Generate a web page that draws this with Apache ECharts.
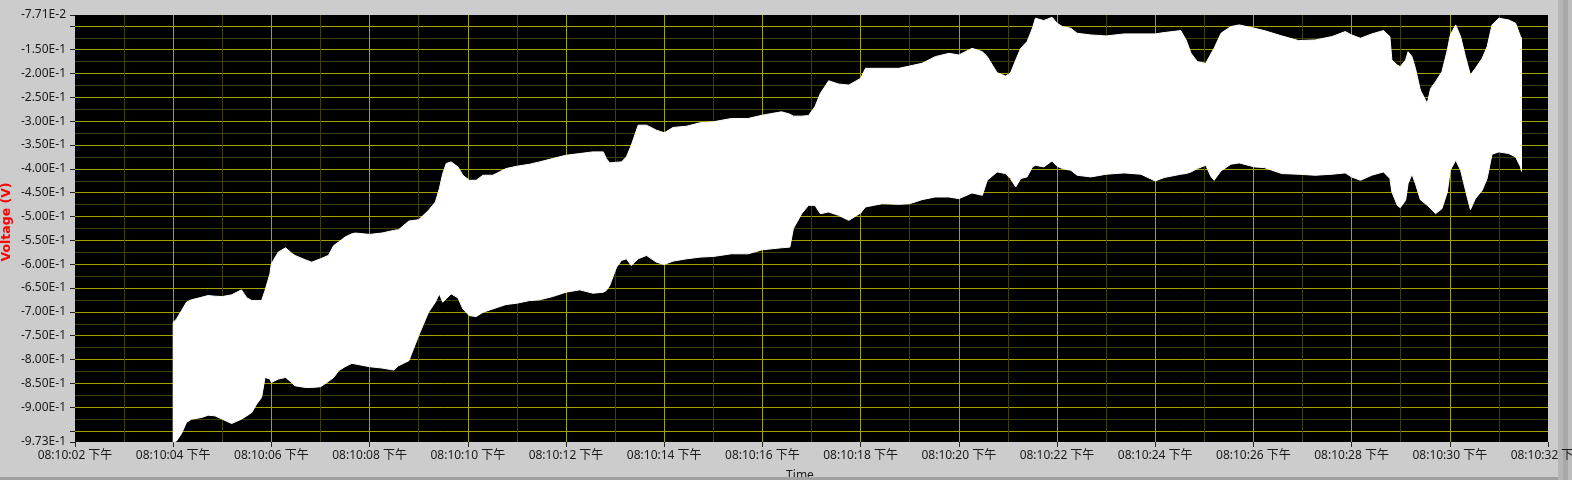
<!DOCTYPE html>
<html><head><meta charset="utf-8">
<script src="https://cdn.jsdelivr.net/npm/echarts@6/dist/echarts.min.js"></script>
<style>
html,body{margin:0;padding:0;background:#cccccc;}
#c{width:1572px;height:480px;background:linear-gradient(to right,#cccccc 0,#cccccc 1558px,#b6b6b6 1558px,#b6b6b6 1563px,#a8a8a8 1563px,#a8a8a8 1568px,#bdbdbd 1568px,#bdbdbd 1572px);}
</style>
</head><body><div id="c"></div>
<script>
// time in seconds after 08:10:00 PM
const times = [4.00,4.07,4.17,4.27,4.37,4.58,4.71,4.85,5.00,5.19,5.39,5.50,5.60,5.70,5.80,5.87,5.97,6.00,6.14,6.29,6.41,6.48,6.69,6.82,7.00,7.16,7.27,7.37,7.50,7.64,7.71,8.00,8.25,8.49,8.59,8.80,9.00,9.20,9.34,9.42,9.49,9.56,9.66,9.80,9.90,10.03,10.17,10.31,10.51,10.78,11.00,11.26,11.46,11.73,12.00,12.28,12.55,12.76,12.82,12.89,13.03,13.13,13.23,13.33,13.47,13.64,13.84,14.00,14.18,14.46,14.73,15.00,15.37,15.71,16.00,16.39,16.56,16.63,16.80,16.94,17.07,17.18,17.35,17.55,17.76,18.00,18.10,18.44,18.78,19.00,19.25,19.52,19.80,20.00,20.27,20.48,20.58,20.78,20.95,21.05,21.16,21.26,21.39,21.50,21.56,21.73,21.90,22.00,22.11,22.28,22.41,22.69,23.00,23.37,23.71,24.00,24.18,24.52,24.63,24.73,24.86,25.03,25.14,25.20,25.34,25.54,25.71,26.02,26.22,26.58,26.92,27.26,27.60,27.87,28.00,28.18,28.41,28.65,28.78,28.82,28.93,28.99,29.10,29.15,29.23,29.30,29.40,29.54,29.61,29.71,29.84,29.95,30.01,30.12,30.22,30.32,30.42,30.52,30.66,30.76,30.86,31.00,31.20,31.34,31.44,31.46];
const upperV = [-0.7218,-0.7148,-0.6973,-0.6797,-0.6748,-0.6692,-0.6657,-0.6671,-0.6678,-0.6643,-0.6538,-0.6706,-0.6762,-0.6762,-0.6762,-0.6552,-0.6201,-0.5991,-0.5746,-0.5655,-0.5767,-0.5816,-0.5907,-0.5956,-0.5886,-0.5816,-0.5606,-0.5535,-0.5430,-0.5360,-0.5346,-0.5374,-0.5346,-0.5290,-0.5276,-0.5094,-0.5066,-0.4870,-0.4694,-0.4414,-0.4098,-0.3888,-0.3853,-0.3958,-0.4133,-0.4239,-0.4239,-0.4133,-0.4133,-0.3993,-0.3944,-0.3902,-0.3853,-0.3783,-0.3713,-0.3678,-0.3643,-0.3643,-0.3783,-0.3874,-0.3860,-0.3853,-0.3748,-0.3503,-0.3082,-0.3082,-0.3187,-0.3243,-0.3131,-0.3103,-0.3033,-0.3012,-0.2942,-0.2942,-0.2872,-0.2802,-0.2851,-0.2893,-0.2893,-0.2879,-0.2696,-0.2416,-0.2150,-0.2220,-0.2241,-0.2101,-0.1890,-0.1890,-0.1890,-0.1841,-0.1785,-0.1645,-0.1575,-0.1610,-0.1470,-0.1540,-0.1645,-0.1981,-0.2052,-0.1995,-0.1715,-0.1470,-0.1329,-0.1049,-0.0839,-0.0888,-0.0818,-0.0944,-0.1014,-0.1049,-0.1154,-0.1189,-0.1210,-0.1168,-0.1168,-0.1168,-0.1140,-0.1098,-0.1294,-0.1575,-0.1750,-0.1785,-0.1575,-0.1470,-0.1154,-0.1014,-0.0979,-0.1049,-0.1098,-0.1210,-0.1308,-0.1294,-0.1224,-0.1119,-0.1189,-0.1259,-0.1168,-0.1098,-0.1224,-0.1715,-0.1820,-0.1855,-0.1715,-0.1540,-0.1645,-0.1890,-0.2346,-0.2626,-0.2311,-0.2171,-0.1960,-0.1505,-0.1189,-0.0979,-0.1224,-0.1645,-0.2030,-0.1890,-0.1680,-0.1435,-0.0979,-0.0839,-0.0874,-0.0944,-0.1224,-0.1250];
const lowerV = [-0.9730,-0.9707,-0.9552,-0.9321,-0.9251,-0.9216,-0.9167,-0.9181,-0.9251,-0.9342,-0.9251,-0.9181,-0.9111,-0.8935,-0.8795,-0.8375,-0.8410,-0.8480,-0.8410,-0.8375,-0.8480,-0.8550,-0.8585,-0.8585,-0.8571,-0.8459,-0.8375,-0.8234,-0.8150,-0.8080,-0.8094,-0.8150,-0.8178,-0.8220,-0.8129,-0.8024,-0.7498,-0.7008,-0.6797,-0.6622,-0.6797,-0.6727,-0.6622,-0.6706,-0.6937,-0.7078,-0.7099,-0.7008,-0.6937,-0.6846,-0.6818,-0.6762,-0.6748,-0.6678,-0.6587,-0.6538,-0.6608,-0.6587,-0.6552,-0.6447,-0.6061,-0.5921,-0.5886,-0.6026,-0.5886,-0.5816,-0.5956,-0.6005,-0.5935,-0.5886,-0.5851,-0.5837,-0.5781,-0.5781,-0.5697,-0.5655,-0.5641,-0.5255,-0.4940,-0.4764,-0.4764,-0.4940,-0.4905,-0.4975,-0.5080,-0.4926,-0.4799,-0.4729,-0.4743,-0.4729,-0.4645,-0.4589,-0.4589,-0.4624,-0.4505,-0.4554,-0.4239,-0.4063,-0.4098,-0.4203,-0.4379,-0.4203,-0.4168,-0.3958,-0.3923,-0.3958,-0.3832,-0.3944,-0.3993,-0.4028,-0.4133,-0.4168,-0.4112,-0.4084,-0.4112,-0.4253,-0.4182,-0.4112,-0.4098,-0.4063,-0.3993,-0.3923,-0.4168,-0.4239,-0.4042,-0.3902,-0.3874,-0.3958,-0.3972,-0.4098,-0.4112,-0.4133,-0.4112,-0.4084,-0.4168,-0.4239,-0.4133,-0.4063,-0.4203,-0.4484,-0.4764,-0.4813,-0.4659,-0.4309,-0.4112,-0.4309,-0.4645,-0.4764,-0.4834,-0.4940,-0.4834,-0.4484,-0.4028,-0.3818,-0.4028,-0.4449,-0.4855,-0.4624,-0.4449,-0.4203,-0.3692,-0.3643,-0.3678,-0.3748,-0.3958,-0.4050];

const xTickValues = [2,4,6,8,10,12,14,16,18,20,22,24,26,28,30,32];
const xTickLabels = ['08:10:02 下午','08:10:04 下午','08:10:06 下午','08:10:08 下午','08:10:10 下午','08:10:12 下午','08:10:14 下午','08:10:16 下午','08:10:18 下午','08:10:20 下午','08:10:22 下午','08:10:24 下午','08:10:26 下午','08:10:28 下午','08:10:30 下午','08:10:32 下午'];
const yTickValues = [-0.973,-0.95,-0.9,-0.85,-0.8,-0.75,-0.7,-0.65,-0.6,-0.55,-0.5,-0.45,-0.4,-0.35,-0.3,-0.25,-0.2,-0.15,-0.1,-0.0771];
const yLabelValues = [-0.973,-0.9,-0.85,-0.8,-0.75,-0.7,-0.65,-0.6,-0.55,-0.5,-0.45,-0.4,-0.35,-0.3,-0.25,-0.2,-0.15,-0.0771];
const yTickLabels = ['-9.73E-1','-9.00E-1','-8.50E-1','-8.00E-1','-7.50E-1','-7.00E-1','-6.50E-1','-6.00E-1','-5.50E-1','-5.00E-1','-4.50E-1','-4.00E-1','-3.50E-1','-3.00E-1','-2.50E-1','-2.00E-1','-1.50E-1','-7.71E-2'];
const yMinorValues = [-0.925,-0.875,-0.825,-0.775,-0.725,-0.675,-0.625,-0.575,-0.525,-0.475,-0.425,-0.375,-0.325,-0.275,-0.225,-0.175,-0.125];
const yMin = -0.973, yMax = -0.0771, xMin = 2, xMax = 32;

const MAJOR = '#a3a300', MINOR = '#3f3f00';
const FONT = '"Noto Sans", "Noto Sans CJK SC", sans-serif';

const chart = echarts.init(document.getElementById('c'), null, {renderer: 'canvas'});
const bandData = times.map((t, i) => [t, upperV[i], lowerV[i]]);

chart.setOption({
  backgroundColor: 'transparent',
  animation: false,
  grid: {left: 75, top: 15, width: 1473, height: 427, show: true, backgroundColor: '#000000', borderWidth: 0,
         containLabel: false, outerBoundsMode: 'none'},
  xAxis: {
    type: 'value', min: xMin, max: xMax, interval: 2, z: 3,
    axisLine: {show: false},
    axisTick: {show: true, length: 5, lineStyle: {color: '#222222', width: 1}},
    axisLabel: {
      margin: 8, fontSize: 12, fontFamily: FONT, color: '#1a1a1a', hideOverlap: false,
      formatter: v => { const i = xTickValues.indexOf(Math.round(v)); return i >= 0 ? xTickLabels[i] : ''; }
    },
    splitLine: {show: true, showMinLine: false, showMaxLine: false, lineStyle: {color: MAJOR, width: 1}},
    minorTick: {show: false, splitNumber: 2},
    minorSplitLine: {show: true, lineStyle: {color: MINOR, width: 1}}
  },
  yAxis: [
    {
      type: 'value', position: 'left', min: yMin, max: yMax, z: 1,
      axisLine: {show: false}, axisLabel: {show: false},
      axisTick: {show: false, customValues: yMinorValues},
      splitLine: {show: true, lineStyle: {color: MINOR, width: 1}}
    },
    {
      type: 'value', position: 'left', offset: 0, min: yMin, max: yMax, z: 2,
      axisLine: {show: false},
      axisTick: {show: true, length: 5, customValues: yTickValues, lineStyle: {color: '#222222', width: 1}},
      axisLabel: {
        customValues: yLabelValues, margin: 9, fontSize: 12, fontFamily: FONT, color: '#1a1a1a',
        formatter: v => { for (let i = 0; i < yLabelValues.length; i++) { if (Math.abs(yLabelValues[i] - v) < 1e-6) return yTickLabels[i]; } return ''; }
      },
      splitLine: {show: true, showMinLine: false, showMaxLine: false, lineStyle: {color: MAJOR, width: 1}}
    }
  ],
  series: [{
    type: 'custom',
    yAxisIndex: 1,
    silent: true,
    z: 5,
    encode: {x: 0, y: [1, 2]},
    data: bandData,
    renderItem: function (params, api) {
      if (params.dataIndex !== 0) return null;
      const pts = [];
      for (let i = 0; i < times.length; i++) pts.push(api.coord([times[i], upperV[i]]));
      for (let i = times.length - 1; i >= 0; i--) pts.push(api.coord([times[i], lowerV[i]]));
      return {type: 'polygon', shape: {points: pts}, style: {fill: '#ffffff', stroke: '#ffffff', lineWidth: 1}};
    }
  }],
  graphic: [
    {type: 'text', x: 7, y: 222, rotation: Math.PI / 2, z: 10,
     style: {text: 'Voltage (V)', fill: '#ff0000', font: 'bold 12.5px "DejaVu Sans"', align: 'center', verticalAlign: 'middle'}},
    {type: 'text', x: 800, y: 470, z: 10,
     style: {text: 'Time', fill: '#1a1a1a', font: '12px "Noto Sans"', align: 'center', verticalAlign: 'top'}},
    {type: 'rect', shape: {x: 0, y: 477, width: 1558, height: 3}, style: {fill: '#a0a0a0'}, z: 20}
  ]
});
</script>
</body></html>
